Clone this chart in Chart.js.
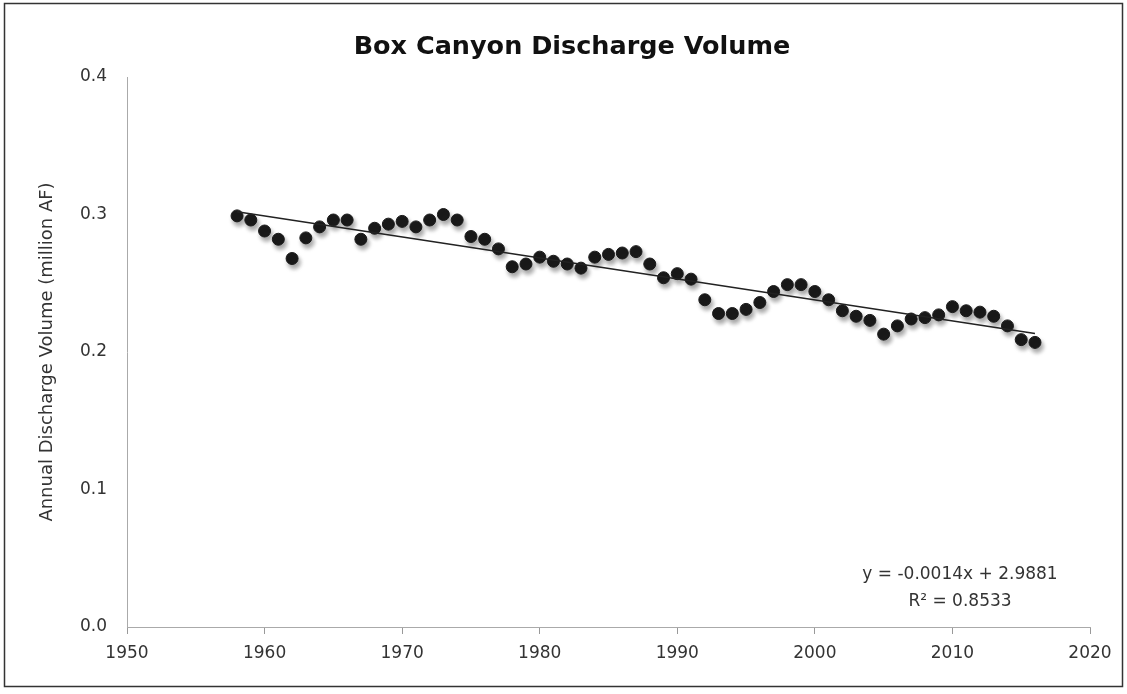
<!DOCTYPE html>
<html>
<head>
<meta charset="utf-8">
<script src="https://cdn.jsdelivr.net/npm/chart.js@4/dist/chart.umd.min.js"></script>
<style>
  html, body { margin: 0; padding: 0; background: #fff; }
  #wrap { width: 1127px; height: 694px; }
</style>
</head>
<body>
<div id="wrap"><canvas id="boxCanyonChart" width="1127" height="694"></canvas></div>
<script>
// annual discharge, million acre-feet
const years = [
  1958, 1959, 1960, 1961, 1962, 1963, 1964, 1965, 1966, 1967,
  1968, 1969, 1970, 1971, 1972, 1973, 1974, 1975, 1976, 1977,
  1978, 1979, 1980, 1981, 1982, 1983, 1984, 1985, 1986, 1987,
  1988, 1989, 1990, 1991, 1992, 1993, 1994, 1995, 1996, 1997,
  1998, 1999, 2000, 2001, 2002, 2003, 2004, 2005, 2006, 2007,
  2008, 2009, 2010, 2011, 2012, 2013, 2014, 2015, 2016
];
const discharge = [
  0.299, 0.296, 0.288, 0.282, 0.268, 0.283, 0.291, 0.296, 0.296, 0.282,
  0.290, 0.293, 0.295, 0.291, 0.296, 0.300, 0.296, 0.284, 0.282, 0.275,
  0.262, 0.264, 0.269, 0.266, 0.264, 0.261, 0.269, 0.271, 0.272, 0.273,
  0.264, 0.254, 0.257, 0.253, 0.238, 0.228, 0.228, 0.231, 0.236, 0.244,
  0.249, 0.249, 0.244, 0.238, 0.230, 0.226, 0.223, 0.213, 0.219, 0.224,
  0.225, 0.227, 0.233, 0.230, 0.229, 0.226, 0.219, 0.209, 0.207
];
const xTicks = [1950, 1960, 1970, 1980, 1990, 2000, 2010, 2020];
const yTicks = [0.0, 0.1, 0.2, 0.3, 0.4];
const chartTitle = "Box Canyon Discharge Volume";
const trendLabel = ["y = -0.0014x + 2.9881", "R\u00B2 = 0.8533"];

const points = years.map((yr, i) => ({ x: yr, y: discharge[i] }));

// least squares fit for the trend line
const n = years.length;
const mx = years.reduce((a, b) => a + b, 0) / n;
const my = discharge.reduce((a, b) => a + b, 0) / n;
let sxy = 0, sxx = 0;
for (let i = 0; i < n; i++) {
  sxy += (years[i] - mx) * (discharge[i] - my);
  sxx += (years[i] - mx) * (years[i] - mx);
}
const slope = sxy / sxx;
const icpt = my - slope * mx;
const trend = [years[0], years[n - 1]].map(x => ({ x: x, y: icpt + slope * x }));

const shadowPlugin = {
  id: "markerShadow",
  beforeDatasetDraw(chart, args) {
    if (args.index !== 1) return;
    const ctx = chart.ctx;
    ctx.save();
    ctx.shadowColor = "rgba(0,0,0,0.35)";
    ctx.shadowBlur = 4;
    ctx.shadowOffsetX = 2;
    ctx.shadowOffsetY = 4;
  },
  afterDatasetDraw(chart, args) {
    if (args.index !== 1) return;
    chart.ctx.restore();
  }
};

// frame, title (centred on the frame, not the plot) and trend equation
const extrasPlugin = {
  id: "extras",
  afterDraw(chart) {
    const ctx = chart.ctx;
    const a = chart.chartArea;
    ctx.save();
    ctx.strokeStyle = "#333";
    ctx.lineWidth = 1.5;
    ctx.strokeRect(4.5, 3.5, 1118, 683);

    ctx.textAlign = "center";
    ctx.textBaseline = "middle";
    ctx.fillStyle = "#111";
    ctx.font = "bold 25.5px 'DejaVu Sans'";
    ctx.fillText(chartTitle, 572, 47);

    ctx.fillStyle = "#333";
    ctx.font = "17px 'DejaVu Sans'";
    ctx.fillText(trendLabel[0], a.right - 130, a.bottom - 52);
    ctx.fillText(trendLabel[1], a.right - 130, a.bottom - 25);
    ctx.restore();
  }
};

new Chart(document.getElementById("boxCanyonChart"), {
  type: "scatter",
  data: {
    datasets: [
      {
        type: "line",
        label: "Linear trend",
        data: trend,
        borderColor: "#222",
        borderWidth: 1.5,
        pointRadius: 0,
        fill: false
      },
      {
        label: "Discharge",
        data: points,
        backgroundColor: "#1a1a1a",
        borderColor: "#1a1a1a",
        pointRadius: 6,
        pointHoverRadius: 6
      }
    ]
  },
  options: {
    responsive: false,
    animation: false,
    layout: { padding: { left: 0, right: 37, top: 77, bottom: 0 } },
    plugins: {
      legend: { display: false },
      tooltip: { enabled: false },
      title: { display: false }
    },
    scales: {
      x: {
        type: "linear",
        min: 1950,
        max: 2020,
        afterFit: s => { s.height = 67; },
        afterBuildTicks: s => { s.ticks = xTicks.map(v => ({ value: v })); },
        ticks: {
          color: "#333",
          font: { family: "DejaVu Sans", size: 17 },
          padding: 9,
          callback: v => String(v)
        },
        grid: { drawOnChartArea: false, tickLength: 7, color: "#999" },
        border: { color: "#aaa", dash: [2, 2] }
      },
      y: {
        min: 0,
        max: 0.4,
        afterFit: s => { s.width = 127; },
        afterBuildTicks: s => { s.ticks = yTicks.map(v => ({ value: v })); },
        ticks: {
          color: "#333",
          font: { family: "DejaVu Sans", size: 17 },
          padding: 20,
          callback: v => v.toFixed(1)
        },
        grid: { display: false, drawTicks: false },
        border: { color: "#aaa", dash: [2, 2] },
        title: {
          display: true,
          text: "Annual Discharge Volume (million AF)",
          color: "#333",
          font: { family: "DejaVu Sans", size: 18 },
          padding: { top: 37, bottom: 0 }
        }
      }
    }
  },
  plugins: [shadowPlugin, extrasPlugin]
});
</script>
</body>
</html>
